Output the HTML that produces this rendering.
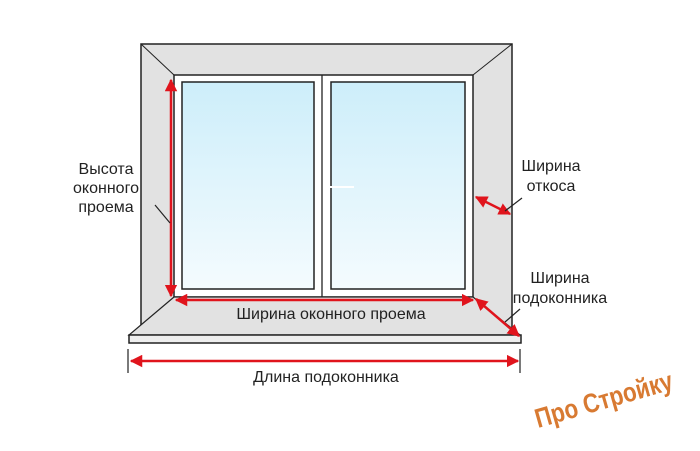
<!DOCTYPE html>
<html><head><meta charset="utf-8"><style>
body{margin:0;background:#fff;}
svg text{font-family:"Liberation Sans",sans-serif;fill:#222;}
</style></head><body>
<svg width="700" height="446" viewBox="0 0 700 446" xmlns="http://www.w3.org/2000/svg">
<defs>
<linearGradient id="g" x1="0" y1="0" x2="0" y2="1"><stop offset="0" stop-color="#cdeefa"/><stop offset="1" stop-color="#f4fbfe"/></linearGradient>
<marker id="a" viewBox="0 0 10 10" refX="9" refY="5" markerWidth="5" markerHeight="5" orient="auto-start-reverse"><path d="M0,0L10,5L0,10z" fill="#e0141c"/></marker>
</defs>
<rect x="141" y="44" width="371" height="286" fill="#e2e2e2" stroke="#222" stroke-width="1.5"/>
<line x1="141" y1="44" x2="174" y2="75" stroke="#222"/>
<line x1="512" y1="44" x2="473" y2="75" stroke="#222"/>
<rect x="174" y="75" width="299" height="222" fill="#fff" stroke="#222" stroke-width="1.5"/>
<rect x="182" y="82" width="132" height="207" fill="url(#g)" stroke="#222" stroke-width="1.5"/>
<rect x="331" y="82" width="134" height="207" fill="url(#g)" stroke="#222" stroke-width="1.5"/>
<line x1="322" y1="75" x2="322" y2="297" stroke="#222" stroke-width="1.3"/>
<line x1="330" y1="187" x2="354" y2="187" stroke="#fff" stroke-width="2"/>
<path d="M174,297L473,297L520,335L129,335z" fill="#e2e2e2" stroke="#222" stroke-width="1.2"/>
<rect x="129" y="335" width="392" height="8" fill="#eee" stroke="#222" stroke-width="1.5"/>
<g stroke="#e0141c" stroke-width="2.5" fill="none">
<line x1="171" y1="80" x2="171" y2="296" marker-start="url(#a)" marker-end="url(#a)"/>
<line x1="176" y1="300" x2="473" y2="300" marker-start="url(#a)" marker-end="url(#a)"/>
<line x1="476" y1="299" x2="519" y2="336" marker-start="url(#a)" marker-end="url(#a)"/>
<line x1="476" y1="197" x2="510" y2="214" marker-start="url(#a)" marker-end="url(#a)"/>
<line x1="131" y1="361" x2="518" y2="361" marker-start="url(#a)" marker-end="url(#a)"/>
</g>
<g stroke="#222" stroke-width="1.2">
<line x1="128" y1="349" x2="128" y2="373"/><line x1="520" y1="349" x2="520" y2="373"/>
<line x1="155" y1="205" x2="170" y2="223"/>
<line x1="505" y1="211" x2="522" y2="198"/>
<line x1="505" y1="322" x2="520" y2="309"/>
</g>
<g font-size="16">
<text x="106" y="174" text-anchor="middle">Высота</text>
<text x="106" y="193" text-anchor="middle">оконного</text>
<text x="106" y="212" text-anchor="middle">проема</text>
<text x="551" y="171" text-anchor="middle">Ширина</text>
<text x="551" y="191" text-anchor="middle">откоса</text>
<text x="560" y="283" text-anchor="middle">Ширина</text>
<text x="560" y="303" text-anchor="middle">подоконника</text>
<text x="331" y="319" text-anchor="middle">Ширина оконного проема</text>
<text x="326" y="382" text-anchor="middle">Длина подоконника</text>
</g>
<text x="0" y="0" transform="translate(538,428) rotate(-16)" font-size="27" font-weight="bold" style="fill:#d87a32" textLength="142" lengthAdjust="spacingAndGlyphs">Про Стройку</text>
</svg>
</body></html>
